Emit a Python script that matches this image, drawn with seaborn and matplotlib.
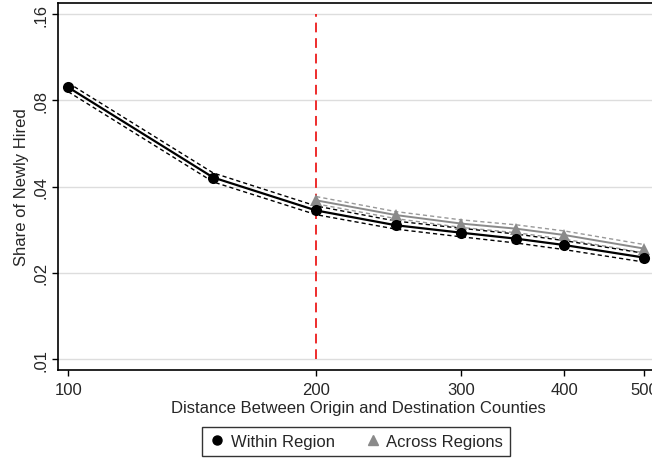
import numpy as np
import pandas as pd
import matplotlib
matplotlib.use("Agg")
import matplotlib.pyplot as plt
import seaborn as sns
from matplotlib.lines import Line2D

# ---- data ----
within_x = [100, 150, 200, 250, 300, 350, 400, 500]
within_y = [0.0888, 0.0430, 0.0330, 0.0293, 0.0276, 0.0263, 0.0250, 0.0226]
within_lo = [0.0857, 0.0415, 0.0319, 0.0284, 0.0267, 0.0254, 0.0241, 0.0218]
within_hi = [0.0920, 0.0446, 0.0342, 0.0303, 0.0286, 0.0273, 0.0259, 0.0234]

across_x = [200, 250, 300, 350, 400, 500]
across_y = [0.0358, 0.0318, 0.0297, 0.0285, 0.0271, 0.0243]
across_lo = [0.0348, 0.0309, 0.0288, 0.0276, 0.0262, 0.0235]
across_hi = [0.0369, 0.0327, 0.0306, 0.0294, 0.0280, 0.0251]

x_ticks = [100, 200, 300, 400, 500]
y_ticks = [0.01, 0.02, 0.04, 0.08, 0.16]
y_tick_labels = [".01", ".02", ".04", ".08", ".16"]
cutoff = 200

sns.set_theme(style="white")
plt.rcParams['font.family'] = ['Liberation Sans', 'DejaVu Sans']

FS = 12

fig = plt.figure(figsize=(6.52, 4.6), dpi=100)
ax = fig.add_axes([58/652, 1-370.7/460, (658.5-58)/652, (370.7-4)/460])

ax.set_xscale("log")
ax.set_yscale("log")

# grid lines
for yt in y_ticks:
    ax.axhline(yt, color="#dddddd", lw=1.0, zorder=0)

# red cutoff line
ax.plot([cutoff, cutoff], [0.01, 0.16], color="#ee2c2c", lw=1.4,
        dashes=(5, 3), zorder=1)

# CI lines
ax.plot(across_x, across_lo, color="#999999", lw=1.0, dashes=(3, 2.2), zorder=2)
ax.plot(across_x, across_hi, color="#999999", lw=1.0, dashes=(3, 2.2), zorder=2)
ax.plot(within_x, within_lo, color="black", lw=1.0, dashes=(3, 2.2), zorder=3)
ax.plot(within_x, within_hi, color="black", lw=1.0, dashes=(3, 2.2), zorder=3)

dfa = pd.DataFrame({"x": across_x, "y": across_y})
dfw = pd.DataFrame({"x": within_x, "y": within_y})
sns.lineplot(data=dfa, x="x", y="y", ax=ax, color="#8a8a8a", lw=1.4,
             marker="^", markersize=8, markeredgewidth=0, zorder=4)
sns.lineplot(data=dfw, x="x", y="y", ax=ax, color="black", lw=1.6,
             marker="o", markersize=8, markeredgewidth=0, zorder=5)

ax.set_xlim(97.2, 520.6)
ax.set_ylim(0.00918, 0.1748)

ax.set_xticks(x_ticks)
ax.set_xticklabels([str(v) for v in x_ticks])
ax.set_yticks(y_ticks)
ax.set_yticklabels(y_tick_labels, rotation=90, va="center")
ax.minorticks_off()
ax.tick_params(axis="both", which="major", direction="out", length=4,
               width=1, color="black", labelsize=FS, bottom=True, left=True,
               pad=3)
ax.tick_params(axis="x", pad=5)

for s in ["left", "bottom", "top", "right"]:
    ax.spines[s].set_color("black")
    ax.spines[s].set_linewidth(1.2)

ax.set_xlabel("Distance Between Origin and Destination Counties", fontsize=FS,
              labelpad=2)
ax.set_ylabel("Share of Newly Hired", fontsize=FS, labelpad=3)

handles = [
    Line2D([], [], color="black", marker="o", ls="none", markersize=6.5),
    Line2D([], [], color="#8a8a8a", marker="^", ls="none", markersize=6.5),
]
leg = fig.legend(handles, ["Within Region", "Across Regions"], ncol=2,
                 loc="center", bbox_to_anchor=(356/652, 1-442.5/460),
                 frameon=True, fancybox=False, fontsize=FS,
                 handletextpad=0.3, columnspacing=1.8, borderpad=0.4,
                 handlelength=1.0)
leg.get_frame().set_edgecolor("black")
leg.get_frame().set_linewidth(1.0)

fig.savefig("out.png", dpi=100)
